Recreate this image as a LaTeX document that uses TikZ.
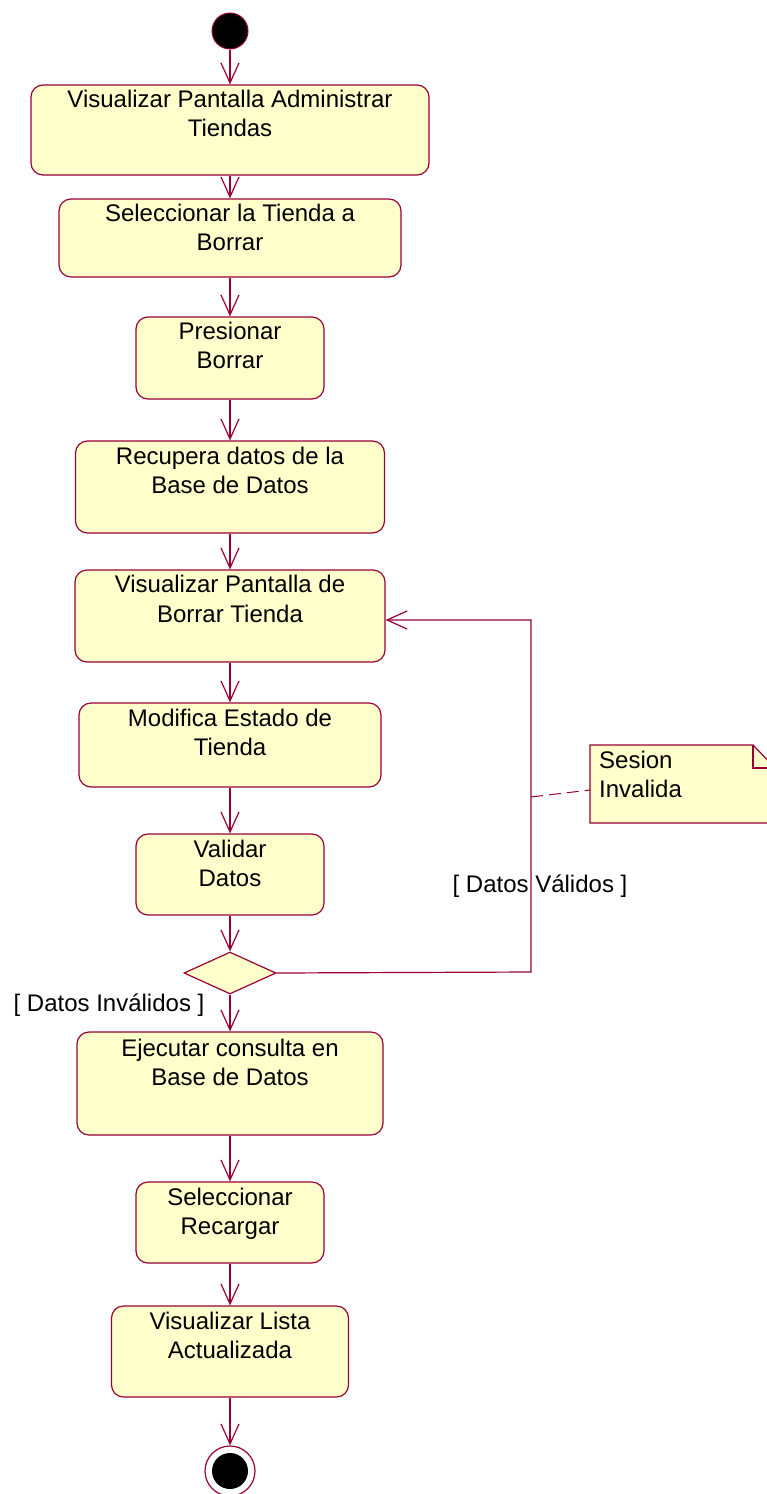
\documentclass[tikz,border=0pt]{standalone}
\usepackage{fontspec}
\setmainfont{Liberation Sans}
\usetikzlibrary{arrows.meta,positioning,shapes.geometric}
\definecolor{umlline}{RGB}{153,0,51}
\definecolor{umlfill}{RGB}{255,255,204}
\tikzset{
  >={Straight Barb[length=20pt,width=18pt]},
  act/.style={rectangle,draw=umlline,fill=umlfill,rounded corners=12pt,line width=1.2pt,inner sep=0pt},
  txt/.style={align=center,inner sep=0pt,font=\fontsize{24pt}{29pt}\selectfont},
  tr/.style={->,draw=umlline,line width=1.2pt},
  dec/.style={diamond,draw=umlline,fill=umlfill,line width=1.2pt,inner sep=0pt,minimum width=92pt,minimum height=42pt}
}
\begin{document}
\begin{tikzpicture}[x=1pt,y=-1pt]
    \useasboundingbox (0,0) rectangle (766,1494);

    % Start
    \node[circle,fill=black,draw=umlline,line width=1pt,minimum size=36pt,inner sep=0pt] (start) at (230,31) {};

    % Activities
    \node[act,minimum width=398pt,minimum height=90pt] (a1) at (230,130) {};
    \node[txt,below=6pt of a1.north] (t1) {Visualizar Pantalla Administrar\\Tiendas};
    \node[act,minimum width=342pt,minimum height=78pt] (a2) at (230,238) {};
    \node[txt,below=6pt of a2.north] (t2) {Seleccionar la Tienda a\\Borrar};
    \node[act,minimum width=188pt,minimum height=82pt] (a3) at (230,358) {};
    \node[txt,below=6pt of a3.north] (t3) {Presionar\\Borrar};
    \node[act,minimum width=309pt,minimum height=92pt] (a4) at (230,487) {};
    \node[txt,below=7pt of a4.north] (t4) {Recupera datos de la\\Base de Datos};
    \node[act,minimum width=310pt,minimum height=92pt] (a5) at (230,616) {};
    \node[txt,below=6pt of a5.north] (t5) {Visualizar Pantalla de\\Borrar Tienda};
    \node[act,minimum width=302pt,minimum height=84pt] (a6) at (230,745) {};
    \node[txt,below=6pt of a6.north] (t6) {Modifica Estado de\\Tienda};
    \node[act,minimum width=188pt,minimum height=81pt] (a7) at (230,874.5) {};
    \node[txt,below=6pt of a7.north] (t7) {Validar\\Datos};

    % Decision
    \node[dec] (d1) at (230,973) {};

    \node[act,minimum width=306pt,minimum height=103pt] (a8) at (230,1083.5) {};
    \node[txt,below=7pt of a8.north] (t8) {Ejecutar consulta en\\Base de Datos};
    \node[act,minimum width=188pt,minimum height=81pt] (a9) at (230,1222.5) {};
    \node[txt,below=6pt of a9.north] (t9) {Seleccionar\\Recargar};
    \node[act,minimum width=237pt,minimum height=91pt] (a10) at (230,1351.5) {};
    \node[txt,below=6pt of a10.north] (t10) {Visualizar Lista\\Actualizada};

    % End
    \node[circle,draw=umlline,line width=1.2pt,minimum size=50pt,inner sep=0pt] (stop) at (230,1471) {};
    \node[circle,fill=black,minimum size=36pt,inner sep=0pt] (stopdot) at (stop) {};

    % Flow
    \draw[tr] (start) -- (a1);
    \draw[tr] (a1) -- (a2);
    \draw[tr] (a2) -- (a3);
    \draw[tr] (a3) -- (a4);
    \draw[tr] (a4) -- (a5);
    \draw[tr] (a5) -- (a6);
    \draw[tr] (a6) -- (a7);
    \draw[tr] (a7) -- (d1);
    \draw[tr] (d1) -- (a8);
    \draw[tr] (a8) -- (a9);
    \draw[tr] (a9) -- (a10);
    \draw[tr] (a10) -- (stop);

    % Loop back
    \coordinate (lp1) at (531,972);
    \coordinate (lp2) at (531,620);
    \draw[tr] (d1.east) -- (lp1) -- (lp2) -- (a5.east |- lp2);

    % Guards
    \node[txt] (g1) at (540,886) {[ Datos Válidos ]};
    \node[txt] (g2) at (109,1005) {[ Datos Inválidos ]};

    % Note
    \draw[umlline,fill=umlfill,line width=1.2pt] (590,745) -- (753,745) -- (775,768) -- (775,823) -- (590,823) -- cycle;
    \draw[umlline,line width=1.2pt] (753,745) -- (753,768) -- (775,768);
    \node[txt,align=left,anchor=north west] (n1) at (599,751) {Sesion\\Invalida};
    \coordinate (nt) at (590,790);
    \coordinate (ld) at (531,797);
    \draw[umlline,line width=1pt,dash pattern=on 12pt off 6pt] (ld) -- (nt);

\end{tikzpicture}
\end{document}
